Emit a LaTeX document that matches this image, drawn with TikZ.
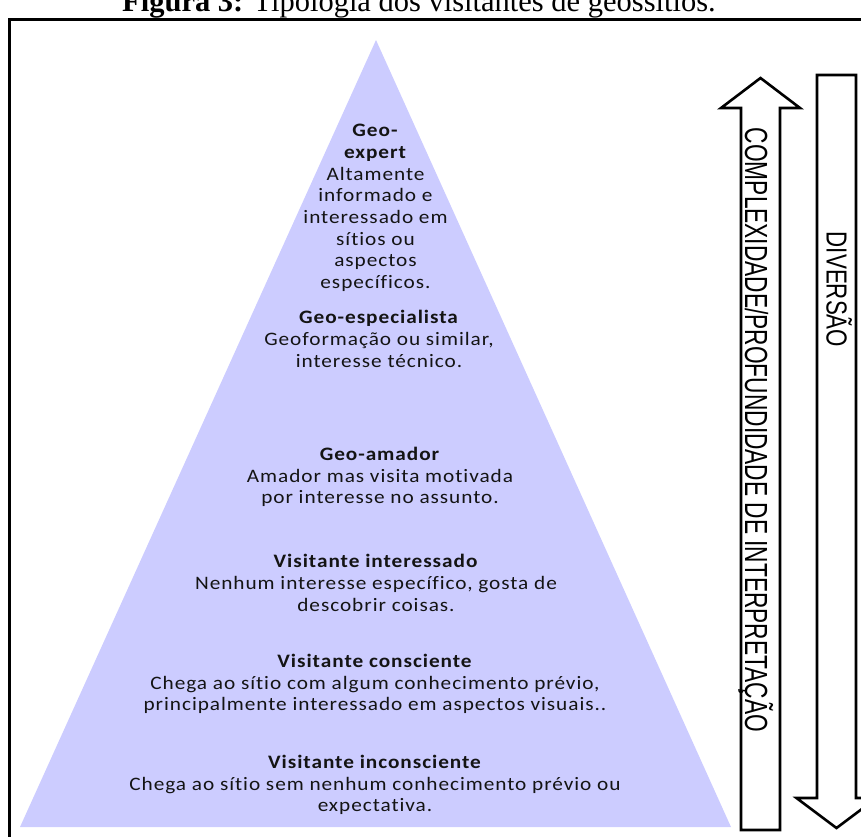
\documentclass[tikz,border=0pt]{standalone}
\usepackage{fontspec}
\newfontfamily\pyrfont[FakeStretch=1.12,LetterSpace=5,Ligatures=NoCommon]{Carlito}
\newfontfamily\arrfont[FakeStretch=0.71]{Liberation Sans}
\newfontfamily\divfont[FakeStretch=0.77]{Liberation Sans}
\newfontfamily\ttlfont{Liberation Serif}
\definecolor{pyrcol}{RGB}{204,204,255}
\definecolor{txtcol}{RGB}{20,20,20}
\begin{document}
\begin{tikzpicture}[x=1pt,y=-1pt,
  tierText/.style={align=center, inner sep=0pt, font=\pyrfont\fontsize{19}{21.7}\selectfont, text=txtcol},
  boxline/.style={draw=black, line width=2.6pt, line join=miter, fill=white},
  vlabel/.style={rotate=-90, anchor=base, inner sep=0pt}]
\useasboundingbox (0,0) rectangle (861,836);
% caption (cut by the page top)
\node[anchor=base, inner sep=0pt, font=\ttlfont\fontsize{30.5}{36}\selectfont] (title) at (419,11)
  {\textbf{Figura 3:} Tipologia dos visitantes de geossítios.};
% frame
\draw[line width=3pt] (9,19) rectangle (885,860);
% pyramid
\fill[pyrcol] (376,40) -- (731,827) -- (20,827) -- cycle;
% up arrow
\draw[boxline] (741,830) -- (741,108) -- (721,108) -- (760.5,78) -- (800,108) -- (780,108) -- (780,830) -- cycle;
% down arrow
\draw[boxline] (817,75) -- (856,75) -- (856,798) -- (876.5,798) -- (836.5,828) -- (796.5,798) -- (817,798) -- cycle;
% arrow labels
\node[vlabel, font=\arrfont\fontsize{32}{36}\selectfont] (cx) at (745,430) {COMPLEXIDADE/PROFUNDIDADE DE INTERPRETAÇÃO};
\node[vlabel, font=\divfont\fontsize{29}{34}\selectfont] (dv) at (826.5,289.5) {DIVERSÃO};
% tiers
\node[tierText] (t1) at (375.5,208) {\textbf{Geo-}\\\textbf{expert}\\Altamente\\informado e\\interessado em\\sítios ou\\aspectos\\específicos.};
\node[tierText] (t2) at (379,339) {\textbf{Geo-especialista}\\Geoformação ou similar,\\interesse técnico.};
\node[tierText] (t3) at (380,477) {\textbf{Geo-amador}\\Amador mas visita motivada\\por interesse no assunto.};
\node[tierText] (t4) at (376,583) {\textbf{Visitante interessado}\\Nenhum interesse específico, gosta de\\descobrir coisas.};
\node[tierText] (t5) at (375,684) {\textbf{Visitante consciente}\\Chega ao sítio com algum conhecimento prévio,\\principalmente interessado em aspectos visuais..};
\node[tierText] (t6) at (375,785) {\textbf{Visitante inconsciente}\\Chega ao sítio sem nenhum conhecimento prévio ou\\expectativa.};
\end{tikzpicture}
\end{document}
